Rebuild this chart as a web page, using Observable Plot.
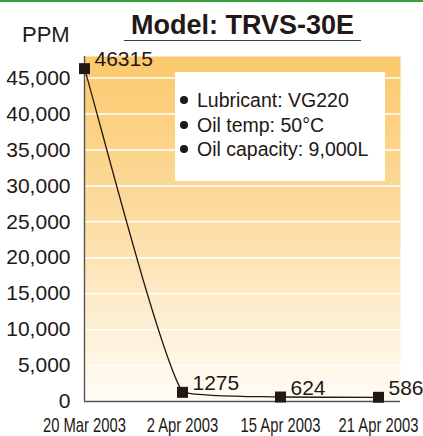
<!DOCTYPE html>
<html>
<head>
<meta charset="utf-8">
<script src="https://cdn.jsdelivr.net/npm/d3@7"></script>
<script src="https://cdn.jsdelivr.net/npm/@observablehq/plot@0.6"></script>
<style>
  html, body { margin: 0; padding: 0; background: #ffffff; }
  #wrap { position: relative; width: 423px; height: 436px; overflow: hidden;
          font-family: "Liberation Sans", Arial, Helvetica, sans-serif; color: #231815; }
  #topline { position: absolute; left: 0; top: 0; width: 423px; height: 2px; background: #2ea43c; }
  #title { position: absolute; left: 124px; top: 12px; width: 237px; text-align: center;
           font-size: 27px; line-height: 27px; font-weight: bold; padding-bottom: 1px;
           border-bottom: 1.7px solid #3e3a39; }
  #ylabel { position: absolute; left: 22px; top: 24px; font-size: 22px; line-height: 22px; }
  #legend { position: absolute; left: 175px; top: 72px; width: 210px; height: 109px;
            background: #ffffff; box-sizing: border-box; padding: 16px 0 0 5px;
            font-size: 19.5px; line-height: 24.5px; }
  #legend .item { white-space: nowrap; }
  #legend .dot { display: inline-block; width: 8px; height: 8px; border-radius: 50%;
                 background: #231815; margin-right: 9px; vertical-align: 3px; }
  #chart { position: absolute; left: 0; top: 0; }
</style>
</head>
<body>
<div id="wrap">
  <div id="chart"></div>
  <div id="topline"></div>
  <div id="title"></div>
  <div id="ylabel"></div>
  <div id="legend"></div>
</div>
<script>
// ---- data ----
const titleText = "Model: TRVS-30E";
const yLabelText = "PPM";
const dates = ["20 Mar 2003", "2 Apr 2003", "15 Apr 2003", "21 Apr 2003"];
const ppm = [46315, 1275, 624, 586];
const yTicks = [0, 5000, 10000, 15000, 20000, 25000, 30000, 35000, 40000, 45000];
const legendItems = ["Lubricant: VG220", "Oil temp: 50\u00B0C", "Oil capacity: 9,000L"];

const data = dates.map((d, i) => ({date: d, ppm: ppm[i]}));
const ink = "#231815";
const FONT = '"Liberation Sans", Arial, Helvetica, sans-serif';

// cardinal spline whose control points never overshoot a segment's y range
function clampedCardinal(tension) {
  const k = (1 - tension) / 6;
  const clamp = (v, lo, hi) => Math.max(lo, Math.min(hi, v));
  return (context) => {
    let pts = [];
    return {
      areaStart() {}, areaEnd() {},
      lineStart() { pts = []; },
      point(x, y) { pts.push([+x, +y]); },
      lineEnd() {
        const n = pts.length;
        if (!n) return;
        context.moveTo(pts[0][0], pts[0][1]);
        for (let i = 0; i < n - 1; i++) {
          const p0 = pts[Math.max(0, i - 1)], p1 = pts[i], p2 = pts[i + 1], p3 = pts[Math.min(n - 1, i + 2)];
          const lo = Math.min(p1[1], p2[1]), hi = Math.max(p1[1], p2[1]);
          const c1x = p1[0] + k * (p2[0] - p0[0]);
          const c1y = clamp(p1[1] + k * (p2[1] - p0[1]), lo, hi);
          const c2x = p2[0] - k * (p3[0] - p1[0]);
          const c2y = clamp(p2[1] - k * (p3[1] - p1[1]), lo, hi);
          context.bezierCurveTo(c1x, c1y, c2x, c2y, p2[0], p2[1]);
        }
      }
    };
  };
}

const svg = Plot.plot({
  width: 423,
  height: 436,
  marginTop: 56,
  marginBottom: 35,
  marginLeft: 84,
  marginRight: 23,
  style: {fontFamily: FONT, color: ink, background: "transparent", overflow: "visible"},
  x: {type: "point", domain: dates, padding: 0.112, align: 0},
  y: {domain: [0, 48000]},
  marks: [
    Plot.frame({fill: "url(#bgGrad)", stroke: "none"}),
    Plot.ruleY(yTicks.filter(d => d > 0), {stroke: "#ffffff", strokeWidth: 1.5}),
    Plot.ruleY([0], {stroke: "#5a5250", strokeWidth: 1.4}),
    Plot.ruleX([dates[0]], {stroke: "#5a5250", strokeWidth: 1.4}),
    Plot.axisY({ticks: yTicks, tickFormat: d3.format(","), tickSize: 0, tickPadding: 14,
                fontSize: 21, label: null}),
    Plot.axisX({tickSize: 0, tickPadding: 16, fontSize: 20, label: null}),
    Plot.line(data, {x: "date", y: "ppm", curve: clampedCardinal(0.25), stroke: ink, strokeWidth: 1.3}),
    Plot.dot(data, {x: "date", y: "ppm", symbol: "square", r: 6.2, fill: ink, stroke: "none"}),
    Plot.text(data, {x: "date", y: "ppm", text: d => String(d.ppm), textAnchor: "start",
                     dx: 10, dy: -9, fontSize: 21, fill: ink})
  ]
});

// gradient definition for the plot background
const defs = document.createElementNS("http://www.w3.org/2000/svg", "defs");
defs.innerHTML = '<linearGradient id="bgGrad" x1="0" y1="0" x2="0" y2="1">' +
  '<stop offset="0" stop-color="#FBC96C"/>' +
  '<stop offset="0.45" stop-color="#FCDBA0"/>' +
  '<stop offset="1" stop-color="#FFFDF7"/>' +
  '</linearGradient>';
svg.prepend(defs);

// condensed x tick labels
svg.querySelectorAll('g[aria-label="x-axis tick label"] text').forEach(t => {
  const tr = t.getAttribute("transform") || "";
  t.setAttribute("transform", tr + " scale(0.74,1)");
});

document.getElementById("chart").appendChild(svg);
document.getElementById("title").textContent = titleText;
document.getElementById("ylabel").textContent = yLabelText;
const leg = document.getElementById("legend");
legendItems.forEach(s => {
  const div = document.createElement("div");
  div.className = "item";
  const dot = document.createElement("span");
  dot.className = "dot";
  div.appendChild(dot);
  div.appendChild(document.createTextNode(s));
  leg.appendChild(div);
});
</script>
</body>
</html>
